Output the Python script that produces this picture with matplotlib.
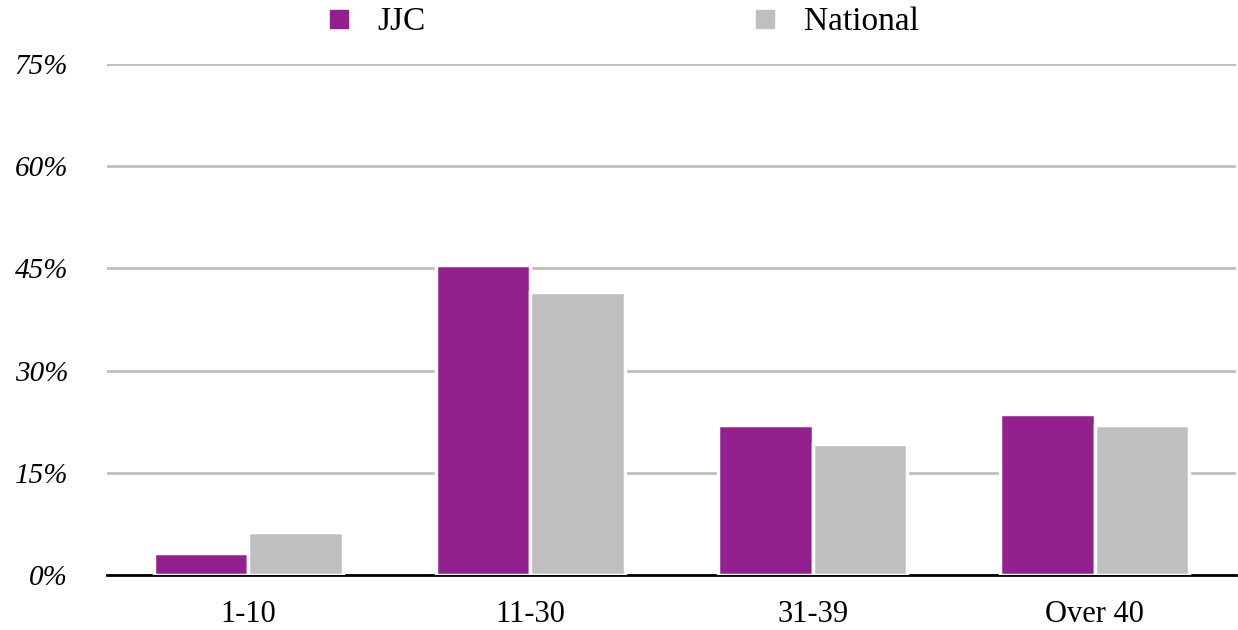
import numpy as np
import matplotlib.pyplot as plt
from matplotlib.lines import Line2D

# ============================
# DATA
# ============================
categories = ["1-10", "11-30", "31-39", "Over 40"]
jjc = [3.2, 45.5, 22.0, 23.6]
national = [6.3, 41.5, 19.2, 22.0]
y_ticks = [0, 15, 30, 45, 60, 75]

purple = "#92208F"
grey = "#BFBFBF"

plt.rcParams["font.family"] = ["Liberation Serif", "DejaVu Serif"]

# ============================
# PLOT
# ============================
fig = plt.figure(figsize=(12.38, 6.30), dpi=100)
ax = fig.add_axes([0.0864, 0.0873, 0.9120, 0.8111])

x = np.arange(len(categories))
w = 0.335

# bars sit slightly above the axis line (white edge shows)
ax.bar(x - w / 2, jjc, width=w, color=purple, edgecolor="white",
       linewidth=2.5, zorder=3)
ax.bar(x + w / 2, national, width=w, color=grey, edgecolor="white",
       linewidth=2.5, zorder=3)

ax.set_xlim(-0.5, 3.5)
ax.set_ylim(0, 75)
ax.set_yticks(y_ticks)
ax.set_yticklabels([f"{t}%" for t in y_ticks], fontstyle="italic", fontsize=21)
ax.set_xticks(x)
ax.set_xticklabels(categories, fontsize=22)

ax.yaxis.grid(True, color="#BFBFBF", linewidth=2, zorder=0)
ax.set_axisbelow(True)
ax.tick_params(axis="both", length=0)
ax.tick_params(axis="y", pad=28)
ax.tick_params(axis="x", pad=18)

for s in ["top", "right", "left"]:
    ax.spines[s].set_visible(False)
ax.spines["bottom"].set_linewidth(2)
ax.spines["bottom"].set_color("black")
ax.spines["bottom"].set_zorder(2)

# legend
handles = [
    Line2D([0], [0], marker="s", linestyle="none", markersize=13,
           markerfacecolor=purple, markeredgecolor=purple, label="JJC"),
    Line2D([0], [0], marker="s", linestyle="none", markersize=13,
           markerfacecolor=grey, markeredgecolor=grey, label="National"),
]
fig.legend(handles=handles, loc="center", bbox_to_anchor=(0.501, 0.965),
           ncol=2, frameon=False, fontsize=24, columnspacing=9.7,
           handlelength=1.0, handletextpad=0.65)

plt.savefig("out.png", dpi=100)
